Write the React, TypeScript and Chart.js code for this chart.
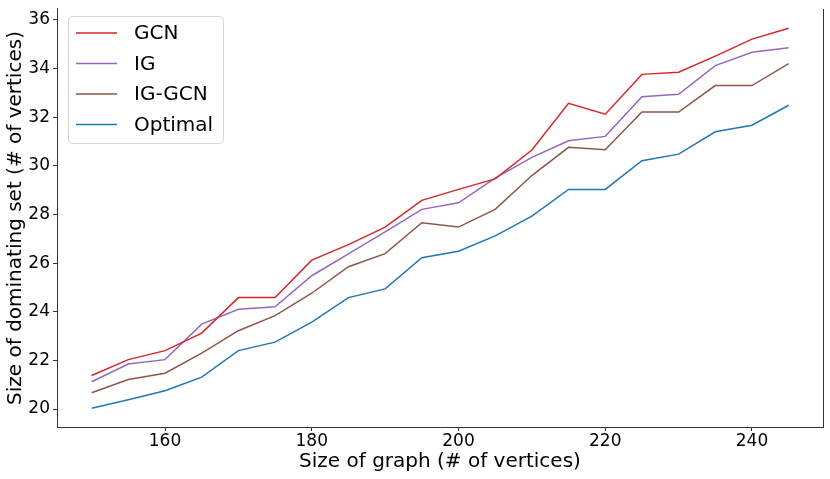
import { useEffect, useRef } from "react";
import { Chart, registerables } from "chart.js";
import type { Plugin } from "chart.js";

Chart.register(...registerables);

const graphSizes = [150, 155, 160, 165, 170, 175, 180, 185, 190, 195, 200, 205, 210, 215, 220, 225, 230, 235, 240, 245];

const gcn = [21.38, 22.03, 22.4, 23.12, 24.58, 24.58, 26.12, 26.76, 27.48, 28.58, 29.03, 29.46, 30.65, 32.57, 32.12, 33.76, 33.85, 34.51, 35.21, 35.66];
const ig = [21.12, 21.85, 22.03, 23.49, 24.1, 24.2, 25.48, 26.38, 27.28, 28.21, 28.48, 29.49, 30.35, 31.03, 31.21, 32.84, 32.94, 34.12, 34.67, 34.85];
const igGcn = [20.67, 21.21, 21.47, 22.3, 23.22, 23.84, 24.76, 25.85, 26.39, 27.66, 27.48, 28.21, 29.6, 30.76, 30.66, 32.21, 32.21, 33.3, 33.3, 34.2];
const optimal = [20.03, 20.38, 20.75, 21.31, 22.4, 22.75, 23.57, 24.58, 24.94, 26.22, 26.49, 27.12, 27.93, 29.03, 29.03, 30.21, 30.48, 31.4, 31.67, 32.49];

const seriesLabels = ["GCN", "IG", "IG-GCN", "Optimal"];
const seriesColors = ["#d62728", "#9467bd", "#8c564b", "#1f77b4"];

const xTicks = [160, 180, 200, 220, 240];
const yTicks = [20, 22, 24, 26, 28, 30, 32, 34, 36];

const FONT = "'DejaVu Sans', sans-serif";
const SPINE = "#333333";

// legend box in the top-left corner + right spine
const insideLegend: Plugin<"line"> = {
  id: "insideLegend",
  afterDraw(chart) {
    const { ctx, chartArea } = chart;
    ctx.save();
    ctx.strokeStyle = SPINE;
    ctx.lineWidth = 1;
    ctx.beginPath();
    ctx.moveTo(chartArea.right + 0.5, chartArea.top);
    ctx.lineTo(chartArea.right + 0.5, chartArea.bottom);
    ctx.stroke();

    const bx = 68;
    const by = 16;
    const bw = 155;
    const bh = 127;
    ctx.beginPath();
    ctx.roundRect(bx + 0.5, by + 0.5, bw, bh, 4);
    ctx.fillStyle = "rgba(255,255,255,0.8)";
    ctx.fill();
    ctx.strokeStyle = "#d6d6d6";
    ctx.stroke();

    ctx.font = `20px ${FONT}`;
    ctx.textBaseline = "middle";
    ctx.textAlign = "left";
    chart.data.datasets.forEach((ds, i) => {
      const y = 33 + i * 30.5;
      ctx.strokeStyle = ds.borderColor as string;
      ctx.lineWidth = 1.5;
      ctx.beginPath();
      ctx.moveTo(76, y);
      ctx.lineTo(117, y);
      ctx.stroke();
      ctx.fillStyle = "#000";
      ctx.fillText(ds.label ?? "", 134, y + 1);
    });
    ctx.restore();
  },
};

export default function App() {
  const canvasRef = useRef<HTMLCanvasElement | null>(null);

  useEffect(() => {
    if (!canvasRef.current) return;
    const series = [gcn, ig, igGcn, optimal];

    const chart = new Chart(canvasRef.current, {
      type: "line",
      data: {
        datasets: series.map((values, i) => ({
          label: seriesLabels[i],
          data: values.map((v, j) => ({ x: graphSizes[j], y: v })),
          borderColor: seriesColors[i],
          backgroundColor: seriesColors[i],
          borderWidth: 1.5,
          pointRadius: 0,
          tension: 0,
          fill: false,
        })),
      },
      options: {
        animation: false,
        responsive: true,
        maintainAspectRatio: false,
        layout: { padding: { top: 6, right: 7, bottom: 0, left: 0 } },
        plugins: {
          legend: { display: false },
          tooltip: { enabled: false },
        },
        scales: {
          x: {
            type: "linear",
            min: 145.28,
            max: 249.68,
            afterFit: (scale) => {
              scale.height = 52;
            },
            afterBuildTicks: (scale) => {
              scale.ticks = xTicks.map((value) => ({ value }));
            },
            ticks: { color: "#000", padding: 0, font: { family: FONT, size: 17 } },
            grid: { drawOnChartArea: false, drawTicks: true, tickLength: 4, color: SPINE },
            border: { display: true, color: SPINE, width: 1 },
            title: {
              display: true,
              text: "Size of graph (# of vertices)",
              color: "#000",
              padding: { top: 0, bottom: 5 },
              font: { family: FONT, size: 20 },
            },
          },
          y: {
            min: 19.26,
            max: 36.45,
            afterFit: (scale) => {
              scale.width = 57;
            },
            afterBuildTicks: (scale) => {
              scale.ticks = yTicks.map((value) => ({ value }));
            },
            // small lineHeight so the top label does not push the plot area down
            ticks: { color: "#000", padding: 3, font: { family: FONT, size: 17, lineHeight: 0.7 } },
            grid: { drawOnChartArea: false, drawTicks: true, tickLength: 4, color: SPINE },
            border: { display: true, color: SPINE, width: 1 },
            title: {
              display: true,
              text: "Size of dominating set (# of vertices)",
              color: "#000",
              padding: { top: 4, bottom: 0 },
              font: { family: FONT, size: 20 },
            },
          },
        },
      },
      plugins: [insideLegend],
    });

    return () => {
      chart.destroy();
    };
  }, []);

  return (
    <div style={{ position: "fixed", left: 0, top: 0, width: 830, height: 479, background: "#fff" }}>
      <canvas ref={canvasRef} />
    </div>
  );
}
